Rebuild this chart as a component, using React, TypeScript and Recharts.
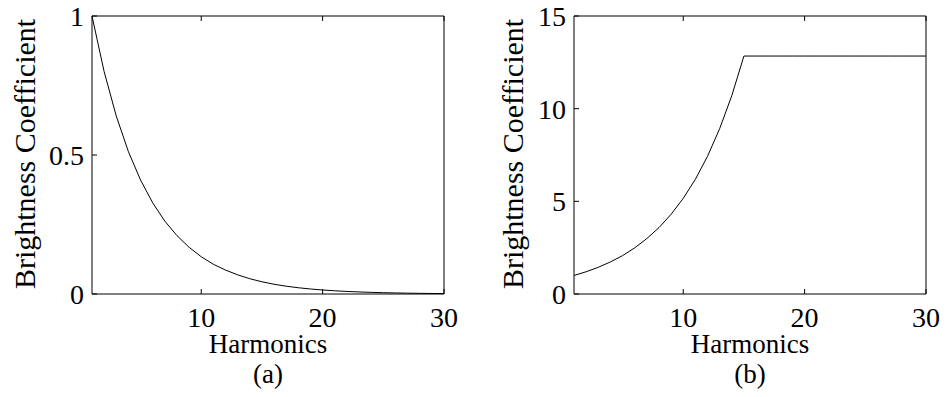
import { LineChart, Line, XAxis, YAxis, Label } from "recharts"

// harmonic number on the x axis
const harmonics = [
  1, 2, 3, 4, 5, 6, 7, 8, 9, 10, 11, 12, 13, 14, 15,
  16, 17, 18, 19, 20, 21, 22, 23, 24, 25, 26, 27, 28, 29, 30,
]

// (a) decaying brightness coefficient
const decayCoeff = [
  1, 0.8, 0.64, 0.512, 0.41, 0.328, 0.262, 0.21, 0.168, 0.134,
  0.107, 0.086, 0.069, 0.055, 0.044, 0.035, 0.028, 0.0225, 0.018, 0.0144,
  0.0115, 0.0092, 0.0074, 0.0059, 0.0047, 0.0038, 0.003, 0.0024, 0.0019, 0.0015,
]

// (b) rising coefficient, clipped after harmonic 15
const boostCoeff = [
  1, 1.2, 1.44, 1.73, 2.07, 2.49, 2.99, 3.58, 4.3, 5.16,
  6.19, 7.43, 8.92, 10.7, 12.84, 12.84, 12.84, 12.84, 12.84, 12.84,
  12.84, 12.84, 12.84, 12.84, 12.84, 12.84, 12.84, 12.84, 12.84, 12.84,
]

const harmonicTicks = [10, 20, 30]
const decayTicks = [0, 0.5, 1]
const boostTicks = [0, 5, 10, 15]

const data = harmonics.map((n, i) => ({ n, decay: decayCoeff[i], boost: boostCoeff[i] }))

const FONT = "'Liberation Serif', 'Times New Roman', serif"
const FS = 28
const TL = 5

function BottomTick(props: any) {
  const { x, y, payload } = props
  return (
    <g>
      <line x1={x} y1={y} x2={x} y2={y - TL} stroke="#000" />
      <text x={x} y={y + 33} textAnchor="middle" fontFamily={FONT} fontSize={FS} fill="#000">
        {payload.value}
      </text>
    </g>
  )
}

function TopTick(props: any) {
  const { x, y } = props
  return <line x1={x} y1={y} x2={x} y2={y + TL} stroke="#000" />
}

function LeftTick(props: any) {
  const { x, y, payload } = props
  return (
    <g>
      <line x1={x} y1={y} x2={x + TL} y2={y} stroke="#000" />
      <text x={x - 8} y={y + 10} textAnchor="end" fontFamily={FONT} fontSize={FS} fill="#000">
        {payload.value}
      </text>
    </g>
  )
}

function RightTick(props: any) {
  const { x, y } = props
  return <line x1={x} y1={y} x2={x - TL} y2={y} stroke="#000" />
}

// axis title plus the panel caption under it
function xLabel(sub: string) {
  return (props: any) => {
    const vb = props.viewBox
    const cx = vb.x + vb.width / 2
    return (
      <g fontFamily={FONT} fontSize={27} fill="#000">
        <text x={cx} y={vb.y + 59} textAnchor="middle">Harmonics</text>
        <text x={cx} y={vb.y + 89} textAnchor="middle">{sub}</text>
      </g>
    )
  }
}

function yLabel(gap: number) {
  return (props: any) => {
    const vb = props.viewBox
    const bx = vb.x + vb.width - gap
    const cy = vb.y + vb.height / 2 - 1
    return (
      <text
        x={bx}
        y={cy}
        transform={`rotate(-90, ${bx}, ${cy})`}
        textAnchor="middle"
        fontFamily={FONT}
        fontSize={30}
        fill="#000"
      >
        Brightness Coefficient
      </text>
    )
  }
}

type PanelProps = {
  width: number
  yWidth: number
  rightMargin: number
  dataKey: string
  yMax: number
  yTicks: number[]
  sub: string
  labelGap: number
}

function Panel({ width, yWidth, rightMargin, dataKey, yMax, yTicks, sub, labelGap }: PanelProps) {
  return (
    <LineChart width={width} height={397} data={data} margin={{ top: 15, right: rightMargin, left: 0, bottom: 0 }}>
      <XAxis
        dataKey="n"
        type="number"
        domain={[1, 30]}
        ticks={harmonicTicks}
        interval={0}
        height={103}
        tickSize={0}
        tickMargin={0}
        tickLine={false}
        axisLine={{ stroke: "#000" }}
        tick={<BottomTick />}
      >
        <Label content={xLabel(sub)} />
      </XAxis>
      <XAxis
        xAxisId="top"
        orientation="top"
        dataKey="n"
        type="number"
        domain={[1, 30]}
        ticks={harmonicTicks}
        interval={0}
        height={1}
        tickSize={0}
        tickMargin={0}
        tickLine={false}
        axisLine={{ stroke: "#000" }}
        tick={<TopTick />}
      />
      <YAxis
        type="number"
        domain={[0, yMax]}
        ticks={yTicks}
        interval={0}
        width={yWidth}
        tickSize={0}
        tickMargin={0}
        tickLine={false}
        axisLine={{ stroke: "#000" }}
        tick={<LeftTick />}
      >
        <Label content={yLabel(labelGap)} />
      </YAxis>
      <YAxis
        yAxisId="right"
        orientation="right"
        type="number"
        domain={[0, yMax]}
        ticks={yTicks}
        interval={0}
        width={1}
        tickSize={0}
        tickMargin={0}
        tickLine={false}
        axisLine={{ stroke: "#000" }}
        tick={<RightTick />}
      />
      <Line
        type="linear"
        dataKey={dataKey}
        stroke="#000"
        strokeWidth={1}
        dot={false}
        isAnimationActive={false}
      />
    </LineChart>
  )
}

export default function App() {
  return (
    <div style={{ position: "absolute", left: 0, top: 0, width: 947, height: 397, background: "#fff" }}>
      <div style={{ position: "absolute", left: 0, top: 0 }}>
        <Panel width={470} yWidth={92} rightMargin={25} dataKey="decay" yMax={1} yTicks={decayTicks} sub="(a)" labelGap={57} />
      </div>
      <div style={{ position: "absolute", left: 470, top: 0 }}>
        <Panel width={477} yWidth={104} rightMargin={20} dataKey="boost" yMax={15} yTicks={boostTicks} sub="(b)" labelGap={51} />
      </div>
    </div>
  )
}
